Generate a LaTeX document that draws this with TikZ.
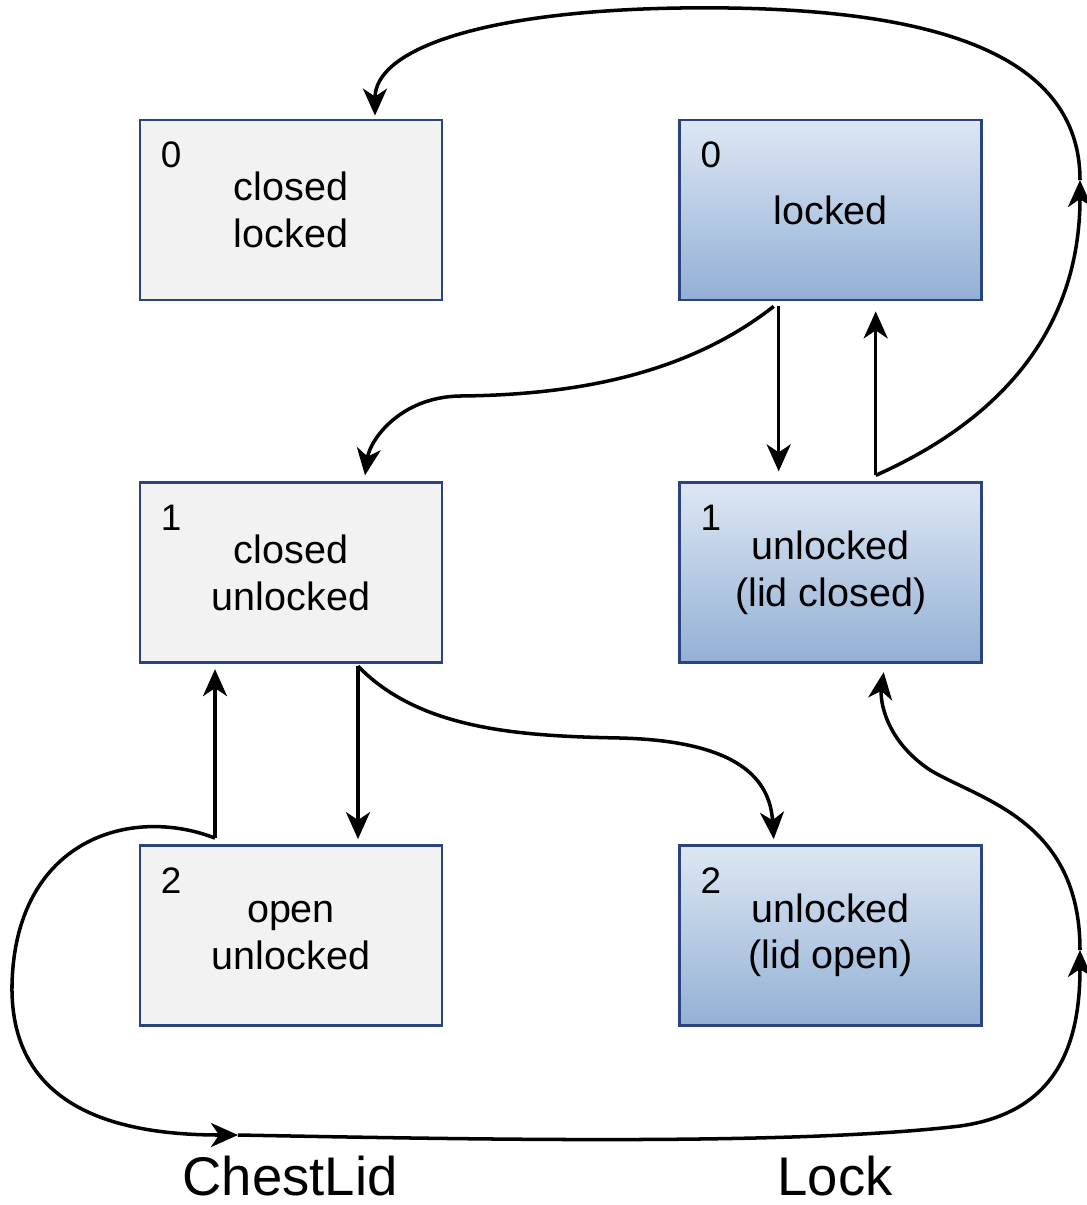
\documentclass[tikz,border=0pt]{standalone}
\usepackage{fontspec}
\setmainfont{Liberation Sans}
\usetikzlibrary{arrows.meta,positioning,calc}

\definecolor{boxline}{HTML}{2A4480}
\definecolor{lidfill}{HTML}{F2F2F2}
\definecolor{locktop}{HTML}{DDE7F3}
\definecolor{lockbot}{HTML}{93B0D5}

\begin{document}
\begin{tikzpicture}[
  x=0.02cm, y=-0.02cm,
  node distance=3.6cm and 4.7cm,
  state/.style={draw=boxline,line width=1.6pt,align=center,minimum width=6.04cm,minimum height=3.6cm,font=\fontsize{22.5}{26.5}\selectfont},
  lidbox/.style={state,fill=lidfill},
  lockbox/.style={state,top color=locktop,bottom color=lockbot},
  num/.style={anchor=north west,inner sep=0pt,xshift=4.4mm,yshift=-4.6mm,font=\fontsize{21}{24}\selectfont},
  arrow/.style={-{Stealth[length=5.4mm,width=4.8mm,inset=1.6mm]},line width=2pt},
  caption/.style={inner sep=0pt,font=\fontsize{31}{36}\selectfont}
]
  \useasboundingbox (0,0) rectangle (1087,1205);

  % ChestLid states (left) and Lock states (right)
  \node[lidbox,label={[num]north west:0}] (closedLocked) at (291,210) {closed\\locked};
  \node[lockbox,label={[num]north west:0},right=of closedLocked] (locked) {locked};
  \node[lidbox,label={[num]north west:1},below=of closedLocked] (closedUnl) {closed\\unlocked};
  \node[lockbox,label={[num]north west:1},right=of closedUnl] (unlockedLC) {unlocked\\(lid closed)};
  \node[lidbox,label={[num]north west:2},below=of closedUnl] (openUnl) {open\\unlocked};
  \node[lockbox,label={[num]north west:2},right=of openUnl] (unlockedLO) {unlocked\\(lid open)};

  \node[caption] (lidName) at (290,1176) {ChestLid};
  \node[caption] (lockName) at (835,1176) {Lock};

  \coordinate (lockRight) at (1080,180);
  \coordinate (lockBottom) at (1080,950);
  \coordinate (lidBottom) at (238,1135);

  % Lock machine
  \draw[arrow] ($(locked.south)+(-52,5)$) -- ($(unlockedLC.north)+(-52,-10)$);
  \draw[arrow] ($(unlockedLC.north)+(45,-6)$) -- ($(locked.south)+(45,10)$);
  \draw[arrow] ($(unlockedLC.north)+(45,-6)$) .. controls (1000,420) and (1080,330) .. (lockRight);
  \draw[arrow] (lockRight) .. controls (1080,40) and (900,5) .. (680,8)
    .. controls (480,11) and (375,50) .. ($(closedLocked.north)+(84,-3)$);

  % links between the two machines
  \draw[arrow] ($(locked.south)+(-57,5)$) .. controls (680,380) and (560,395) .. (460,396)
    .. controls (400,397) and (370,440) .. ($(closedUnl.north)+(74,-6)$);
  \draw[arrow] ($(closedUnl.south)+(67,2)$) .. controls (420,730) and (520,736) .. (620,738)
    .. controls (740,741) and (770,780) .. ($(unlockedLO.north)+(-57,-5)$);

  % ChestLid machine
  \draw[arrow] ($(closedUnl.south)+(67,2)$) -- ($(openUnl.north)+(67,-5)$);
  \draw[arrow] ($(openUnl.north)+(-76,-6)$) -- ($(closedUnl.south)+(-76,5)$);
  \draw[arrow] ($(openUnl.north)+(-76,-6)$) .. controls (130,805) and (15,840) .. (12,985)
    .. controls (10,1110) and (120,1135) .. (lidBottom);
  \draw[arrow] (lidBottom) .. controls (500,1140) and (800,1145) .. (960,1126)
    .. controls (1060,1112) and (1080,1040) .. (lockBottom);
  \draw[arrow] (lockBottom) .. controls (1080,820) and (980,800) .. (930,770)
    .. controls (885,740) and (880,700) .. ($(unlockedLC.south)+(53,8)$);
\end{tikzpicture}
\end{document}
